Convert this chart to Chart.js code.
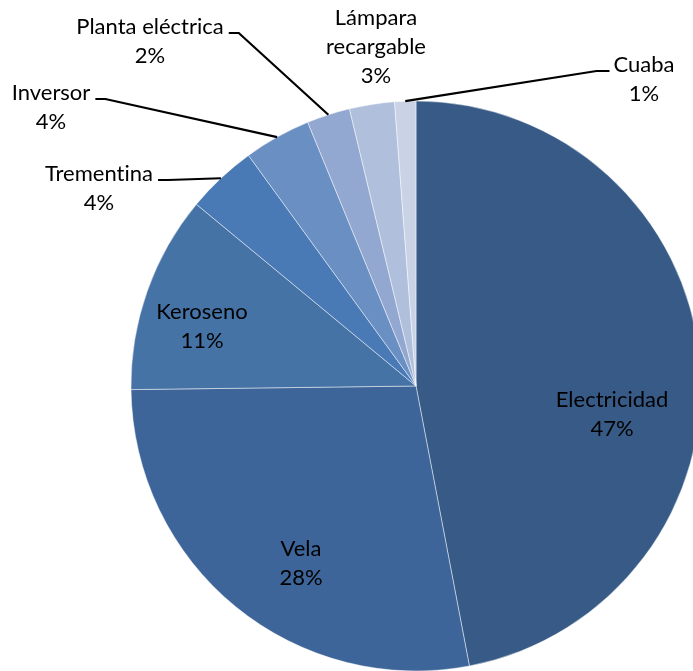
<!DOCTYPE html>
<html lang="es">
<head>
    <meta charset="UTF-8">
    <title>Fuentes de iluminación</title>
    <script src="https://cdn.jsdelivr.net/npm/chart.js@4/dist/chart.umd.min.js"></script>
    <style>
        html, body { margin: 0; padding: 0; background: #fff; }
        #wrap { width: 693px; height: 671px; }
    </style>
</head>
<body>
    <div id="wrap"><canvas id="grafica" width="693" height="671"></canvas></div>

    <script>
        // datos
        const categorias = ['Electricidad', 'Vela', 'Keroseno', 'Trementina', 'Inversor', 'Planta eléctrica', 'Lámpara recargable', 'Cuaba'];
        const valores = [47.0, 27.8, 11.2, 4.0, 3.8, 2.45, 2.55, 1.2];
        const colores = ['#375A86', '#3E6599', '#4673A6', '#4A7AB6', '#6A8FC3', '#93A8D0', '#B0C0DC', '#CAD3E6'];

        // lineas de texto de cada etiqueta y donde va (centro de la primera linea)
        const lineasEtiqueta = [['Electricidad'], ['Vela'], ['Keroseno'], ['Trementina'], ['Inversor'], ['Planta eléctrica'], ['Lámpara', 'recargable'], ['Cuaba']];
        const posEtiqueta = [[612, 400], [301, 549], [202, 312], [99, 174], [51, 93], [150, 27], [376, 18], [644, 65]];
        // lado del texto respecto a la linea guia: 'izq' = texto a la izquierda, 'der' = texto a la derecha
        const guia = [null, null, null, 'izq', 'izq', 'izq', null, 'der'];

        const FUENTE = '22px Lato, "Open Sans", sans-serif';
        const INTERLINEA = 29;

        const etiquetas = {
            id: 'etiquetas',
            afterDatasetsDraw(chart) {
                const ctx = chart.ctx;
                const arcos = chart.getDatasetMeta(0).data;
                const total = valores.reduce((a, b) => a + b, 0);
                ctx.save();
                ctx.font = FUENTE;
                // sin ligaduras (la "ti" de Lato)
                ctx.letterSpacing = '0.01px';
                ctx.fillStyle = '#000';
                ctx.textAlign = 'center';
                ctx.textBaseline = 'middle';
                arcos.forEach((arco, i) => {
                    const [cx, cy] = posEtiqueta[i];
                    const lineas = lineasEtiqueta[i].concat([Math.round(valores[i] / total * 100) + '%']);
                    lineas.forEach((t, j) => ctx.fillText(t, cx, cy + j * INTERLINEA));

                    if (guia[i]) {
                        const p = arco.getProps(['x', 'y', 'startAngle', 'endAngle', 'outerRadius'], true);
                        const medio = (p.startAngle + p.endAngle) / 2;
                        const x0 = p.x + Math.cos(medio) * p.outerRadius;
                        const y0 = p.y + Math.sin(medio) * p.outerRadius;
                        const w = ctx.measureText(lineas[0]).width;
                        let ax, ex;
                        if (guia[i] === 'izq') {
                            ax = cx + w / 2 + 5;
                            ex = ax + 10;
                        } else {
                            ax = cx - w / 2 - 4;
                            ex = ax - 13;
                        }
                        const ay = cy + 6;
                        ctx.beginPath();
                        ctx.moveTo(x0, y0);
                        ctx.lineTo(ex, ay);
                        ctx.lineTo(ax, ay);
                        ctx.strokeStyle = '#000';
                        ctx.lineWidth = 2.2;
                        ctx.stroke();
                    }
                });
                ctx.restore();
            }
        };

        new Chart(document.getElementById('grafica'), {
            type: 'pie',
            data: {
                labels: categorias,
                datasets: [{
                    data: valores,
                    backgroundColor: colores,
                    borderColor: 'rgba(255,255,255,0.45)',
                    borderWidth: 1,
                    clip: false
                }]
            },
            options: {
                responsive: false,
                animation: false,
                radius: 285,
                layout: { padding: { left: 139, right: 0, top: 101, bottom: 0 } },
                plugins: {
                    legend: { display: false },
                    tooltip: { enabled: false }
                }
            },
            plugins: [etiquetas]
        });
    </script>
</body>
</html>
